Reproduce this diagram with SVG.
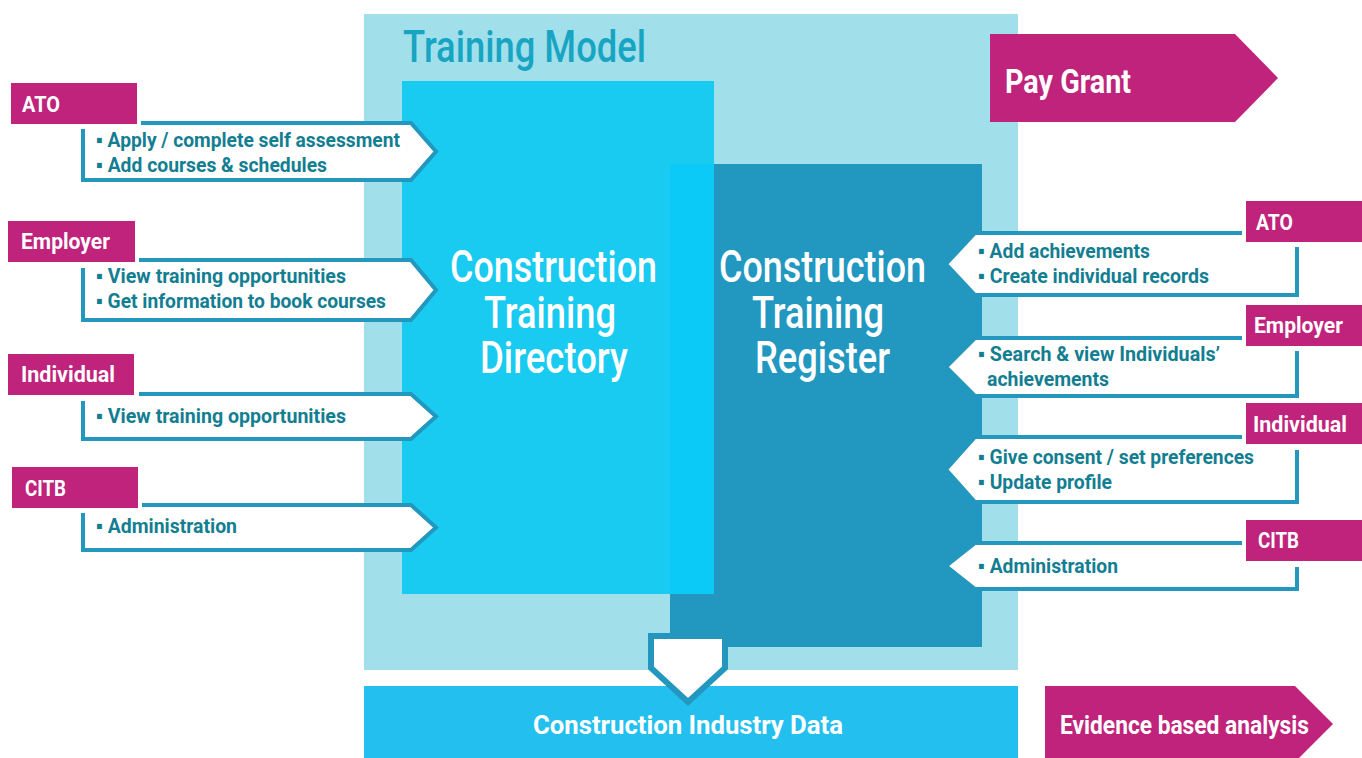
<svg xmlns="http://www.w3.org/2000/svg" width="1362" height="758" viewBox="0 0 1362 758">
<defs>
<style>
.lbl{fill:#c0237b}
.lt{font-family:Roboto,"Liberation Sans",sans-serif;font-weight:700;font-size:22px;fill:#ffffff}
.box{fill:#ffffff;stroke:#2397be;stroke-width:4;stroke-linejoin:miter}
.bt{font-family:Roboto,"Liberation Sans",sans-serif;font-weight:700;font-size:21px;fill:#137e92}
.big{font-family:Roboto,"Liberation Sans",sans-serif;font-weight:500;font-size:45px;fill:#ffffff}
.mag{fill:#c0237b}
.mt{font-family:Roboto,"Liberation Sans",sans-serif;font-weight:700;fill:#ffffff}
</style>
</defs>
<rect width="1362" height="758" fill="#ffffff"/>

<g id="training-model">
<rect x="364" y="14" width="654" height="656" fill="#a1e0eb"/>
<text x="403" y="62" font-family="Roboto,'Liberation Sans',sans-serif" font-weight="500" font-size="44" fill="#17a5c3" textLength="243" lengthAdjust="spacingAndGlyphs">Training Model</text>
</g>

<g id="directory">
<rect x="402" y="81" width="312" height="513" fill="#19caf1"/>
</g>
<g id="register">
<rect x="670" y="164" width="312" height="483" fill="#2297bf"/>
<rect x="670" y="164" width="44" height="430" fill="#0bcaf8"/>
</g>
<g id="directory-text">
<text class="big" x="450" y="282" textLength="207" lengthAdjust="spacingAndGlyphs">Construction</text>
<text class="big" x="484" y="328" textLength="132" lengthAdjust="spacingAndGlyphs">Training</text>
<text class="big" x="480" y="373" textLength="148" lengthAdjust="spacingAndGlyphs">Directory</text>
</g>
<g id="register-text">
<text class="big" x="719" y="282" textLength="207" lengthAdjust="spacingAndGlyphs">Construction</text>
<text class="big" x="752" y="328" textLength="132" lengthAdjust="spacingAndGlyphs">Training</text>
<text class="big" x="755" y="373" textLength="135" lengthAdjust="spacingAndGlyphs">Register</text>
</g>

<g id="industry-data">
<rect x="364" y="686" width="654" height="72" fill="#23bfef"/>
<text class="mt" x="533" y="734" font-size="26" textLength="310" lengthAdjust="spacingAndGlyphs">Construction Industry Data</text>
</g>

<g id="connectors">
<path d="M651,636 H725 V668 L688,702 L651,668 Z" fill="#ffffff" stroke="#2397be" stroke-width="6" stroke-linejoin="miter"/>
</g>

<g id="pay-grant">
<path class="mag" d="M990,34 H1235 L1278,78 L1235,122 H990 Z"/>
<text class="mt" x="1005" y="93" font-size="33" textLength="126" lengthAdjust="spacingAndGlyphs">Pay Grant</text>
</g>

<g id="evidence">
<path class="mag" d="M1045,686 H1295 L1333,724 L1295,762 H1045 Z"/>
<text class="mt" x="1060" y="734" font-size="25" textLength="249" lengthAdjust="spacingAndGlyphs">Evidence based analysis</text>
</g>

<!-- Left side -->
<g id="left-ato">
<path class="box" d="M141,123 H411 L436,151.5 L411,180 H83 V129"/>
<rect class="lbl" x="11" y="83" width="126" height="41"/>
<text class="lt" x="22" y="112" textLength="38" lengthAdjust="spacingAndGlyphs">ATO</text>
<text class="bt" x="96" y="147" textLength="304" lengthAdjust="spacingAndGlyphs">▪ Apply / complete self assessment</text>
<text class="bt" x="96" y="172" textLength="231" lengthAdjust="spacingAndGlyphs">▪ Add courses &amp; schedules</text>
</g>

<g id="left-employer">
<path class="box" d="M139,260 H411 L436,290 L411,320 H83 V268"/>
<rect class="lbl" x="8" y="221" width="127" height="41"/>
<text class="lt" x="21" y="249" textLength="89" lengthAdjust="spacingAndGlyphs">Employer</text>
<text class="bt" x="96" y="283" textLength="250" lengthAdjust="spacingAndGlyphs">▪ View training opportunities</text>
<text class="bt" x="96" y="308" textLength="290" lengthAdjust="spacingAndGlyphs">▪ Get information to book courses</text>
</g>

<g id="left-individual">
<path class="box" d="M139,394 H411 L436,416.5 L411,439 H83 V401"/>
<rect class="lbl" x="8" y="354" width="126" height="41"/>
<text class="lt" x="21" y="382" textLength="94" lengthAdjust="spacingAndGlyphs">Individual</text>
<text class="bt" x="96" y="423" textLength="250" lengthAdjust="spacingAndGlyphs">▪ View training opportunities</text>
</g>

<g id="left-citb">
<path class="box" d="M142,505 H411 L436,527.5 L411,550 H83 V513"/>
<rect class="lbl" x="12" y="467" width="126" height="41"/>
<text class="lt" x="25" y="496" textLength="41" lengthAdjust="spacingAndGlyphs">CITB</text>
<text class="bt" x="96" y="533" textLength="141" lengthAdjust="spacingAndGlyphs">▪ Administration</text>
</g>

<!-- Right side -->
<g id="right-ato">
<path class="box" d="M1242,233 H975 L946,264 L975,295 H1297 V247"/>
<rect class="lbl" x="1246" y="201" width="116" height="41"/>
<text class="lt" x="1256" y="230" textLength="37" lengthAdjust="spacingAndGlyphs">ATO</text>
<text class="bt" x="978" y="258" textLength="172" lengthAdjust="spacingAndGlyphs">▪ Add achievements</text>
<text class="bt" x="978" y="283" textLength="231" lengthAdjust="spacingAndGlyphs">▪ Create individual records</text>
</g>

<g id="right-employer">
<path class="box" d="M1242,338 H975 L946,367 L975,396 H1297 V351"/>
<rect class="lbl" x="1246" y="305" width="116" height="41"/>
<text class="lt" x="1254" y="333" textLength="89" lengthAdjust="spacingAndGlyphs">Employer</text>
<text class="bt" x="978" y="361" textLength="242" lengthAdjust="spacingAndGlyphs">▪ Search &amp; view Individuals’</text>
<text class="bt" x="987" y="386" textLength="122" lengthAdjust="spacingAndGlyphs">achievements</text>
</g>

<g id="right-individual">
<path class="box" d="M1242,437 H975 L946,469.5 L975,502 H1297 V450"/>
<rect class="lbl" x="1246" y="403" width="116" height="41"/>
<text class="lt" x="1253" y="432" textLength="94" lengthAdjust="spacingAndGlyphs">Individual</text>
<text class="bt" x="978" y="464" textLength="276" lengthAdjust="spacingAndGlyphs">▪ Give consent / set preferences</text>
<text class="bt" x="978" y="489" textLength="134" lengthAdjust="spacingAndGlyphs">▪ Update profile</text>
</g>

<g id="right-citb">
<path class="box" d="M1242,543 H975 L946,566 L975,589 H1297 V567"/>
<rect class="lbl" x="1246" y="520" width="116" height="41"/>
<text class="lt" x="1258" y="548" textLength="41" lengthAdjust="spacingAndGlyphs">CITB</text>
<text class="bt" x="978" y="573" textLength="140" lengthAdjust="spacingAndGlyphs">▪ Administration</text>
</g>
</svg>
